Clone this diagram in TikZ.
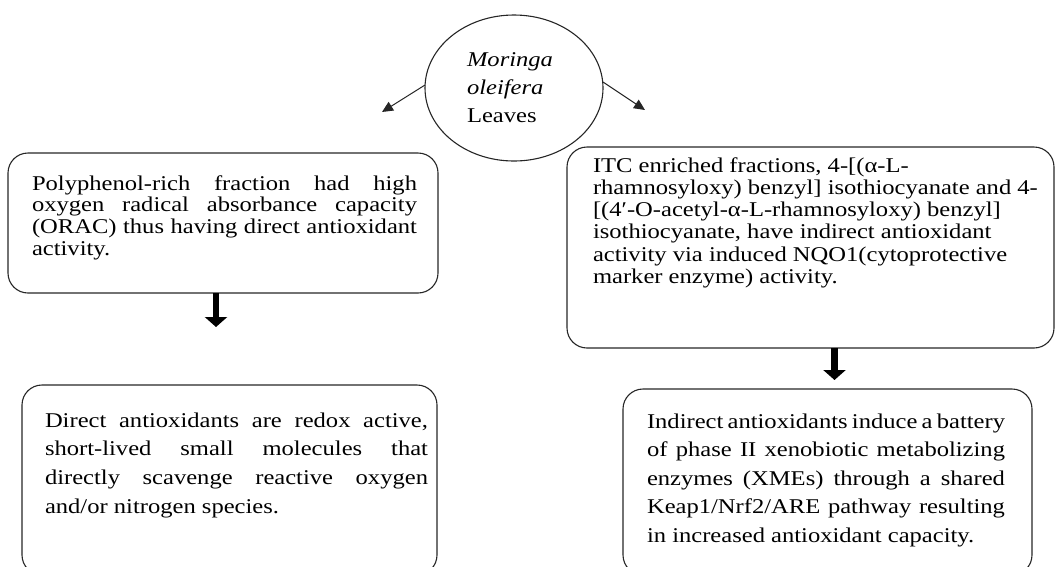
\documentclass[tikz,border=0pt]{standalone}
\usepackage{fontspec}
\setmainfont{Liberation Serif}[FakeStretch=1.17]
\usetikzlibrary{arrows.meta,shapes.geometric}

% justified / ragged paragraph set on a fixed width, baseline = first line
\newcommand{\jpar}[3]{\parbox[t]{#1}{\fontsize{21}{#2}\selectfont
  \tolerance=10000 \hyphenpenalty=10000 \exhyphenpenalty=10000 #3}}
\newcommand{\rpar}[3]{\parbox[t]{#1}{\fontsize{21}{#2}\selectfont\raggedright
  \hyphenpenalty=10000 \exhyphenpenalty=10000 #3}}

\begin{document}
\begin{tikzpicture}[x=1pt,y=-1pt,
  frame/.style={draw=black!85, line width=1.1pt, rounded corners=20pt,
    inner sep=0pt, outer sep=0pt, anchor=north west},
  oval/.style={draw=black!85, line width=1.1pt, ellipse, inner sep=0pt, outer sep=0pt},
  txt/.style={anchor=base west, inner sep=0pt, outer sep=0pt},
  thinarrow/.style={draw=black!85, line width=1pt, -{Triangle[length=11pt,width=10pt]}},
  fatarrow/.style={draw=black, line width=6.5pt, -{Triangle[length=10pt,width=22pt]}}]

\useasboundingbox (0,0) rectangle (1056,566);
\clip (0,0) rectangle (1056,566);

% central oval
\node[oval, minimum width=178pt, minimum height=146pt] (ell) at (514,88) {};
\node[txt] (ellt) at (467,66) {\rpar{100pt}{28}{\itshape Moringa\\ oleifera\\ \upshape Leaves}};

% boxes
\node[frame, minimum width=430pt, minimum height=140pt] (b1) at (8,153) {};
\node[frame, minimum width=487pt, minimum height=201pt] (b2) at (567,147) {};
\node[frame, minimum width=415pt, minimum height=190pt] (b3) at (22,385) {};
\node[frame, minimum width=409pt, minimum height=186pt] (b4) at (623,389) {};

% box texts
\node[txt] (t1) at (32,190) {\jpar{385pt}{21.8}{Polyphenol-rich fraction had high\linebreak
  oxygen radical absorbance capacity\linebreak
  (ORAC) thus having direct antioxidant\linebreak
  activity.}};
\node[txt] (t2) at (593,172) {\rpar{455pt}{22.3}{ITC enriched fractions, 4-[(α-L-\\
  rhamnosyloxy) benzyl] isothiocyanate and 4-\\\relax
  [(4′-O-acetyl-α-L-rhamnosyloxy) benzyl]\\
  isothiocyanate, have indirect antioxidant\\
  activity via induced NQO1(cytoprotective\\
  marker enzyme) activity.}};
\node[txt] (t3) at (45,427) {\jpar{383pt}{28.7}{Direct antioxidants are redox active,\linebreak
  short-lived small molecules that\linebreak
  directly scavenge reactive oxygen\linebreak
  and/or nitrogen species.}};
\node[txt] (t4) at (647,428) {\jpar{358pt}{28.5}{Indirect antioxidants induce a battery\linebreak
  of phase II xenobiotic metabolizing\linebreak
  enzymes (XMEs) through a shared\linebreak
  Keap1/Nrf2/ARE pathway resulting\linebreak
  in increased antioxidant capacity.}};

% arrow ends
\coordinate (aL) at (382,112);
\coordinate (aR) at (645,110);
\coordinate (d1) at (216,327);
\coordinate (d2) at (834.5,380);

% connectors
\draw[thinarrow] ([yshift=3pt]ell.west) -- (aL);
\draw[thinarrow] ([yshift=6pt]ell.east) -- (aR);
\draw[fatarrow] (b1.south -| d1) -- (d1);
\draw[fatarrow] (b2.south -| d2) -- (d2);
\end{tikzpicture}
\end{document}
